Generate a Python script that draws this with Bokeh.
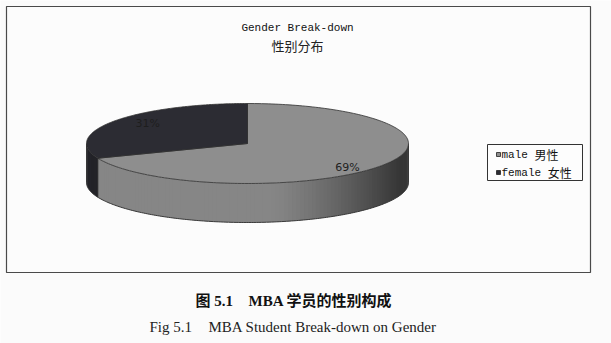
import numpy as np
from bokeh.plotting import figure
from bokeh.models import Range1d
from bokeh.core.properties import value
from bokeh.embed import file_html
from bokeh.resources import INLINE

# ---- data ----
categories = ["male", "female"]
categories_cn = ["男性", "女性"]
shares = [69, 31]
pct_labels = ["69%", "31%"]
title_en = "Gender Break-down"
title_cn = "性别分布"
caption_cn_a = "图 5.1"
caption_cn_b = "MBA 学员的性别构成"
caption_en_a = "Fig 5.1"
caption_en_b = "MBA Student Break-down on Gender"

# ---- style ----
top_colors = [(142, 142, 142), (44, 44, 51)]
W, H = 611, 343
cx, cy, a, b, depth = 247, 143, 161, 40, 39

p = figure(width=W, height=H, x_range=Range1d(0, W), y_range=Range1d(H, 0),
           output_backend="svg", toolbar_location=None, min_border=0,
           background_fill_color="#fbfbfb", border_fill_color="#fbfbfb")
p.axis.visible = False
p.grid.visible = False
p.outline_line_color = None

# chart frame
p.quad(left=[6], right=[590], top=[6], bottom=[272], fill_color="#fcfcfc",
       line_color="#4a4a4a", line_width=1.2)

total = float(sum(shares))
start = 90.0
slices = []
for s in shares:
    sweep = s / total * 360.0
    slices.append((start - sweep, start))
    start -= sweep

def hexc(rgb):
    return "#%02x%02x%02x" % tuple(int(max(0, min(255, v))) for v in rgb)

# side walls (front half), drawn as overlapping strips for a smooth shade
for i, (t0, t1) in enumerate(slices):
    for k in (-360, 0, 360):
        lo, hi = max(t0, -180 + k), min(t1, 0 + k)
        if lo >= hi:
            continue
        n = max(2, int((hi - lo) / 1.5))
        ts = np.linspace(lo, hi, n + 1)
        xs_list, ys_list, cols = [], [], []
        for j in range(n):
            ta = np.radians(ts[j])
            tb = np.radians(min(hi, ts[j + 1] + 1.2))
            tm = np.radians((ts[j] + ts[j + 1]) / 2)
            xa, xb = cx + a * np.cos(ta), cx + a * np.cos(tb)
            ya, yb = cy - b * np.sin(ta), cy - b * np.sin(tb)
            xs_list.append([xa, xb, xb, xa])
            ys_list.append([ya, yb, yb + depth, ya + depth])
            c = np.cos(tm)
            ramp = min(1.0, max(0.0, (c - 0.15) / 0.8)) ** 1.3
            base = top_colors[i]
            if i == 0:
                v = 134 - 80 * ramp
                cols.append(hexc((v, v, v)))
            else:
                f = 0.8 - 0.2 * ramp
                cols.append(hexc((base[0] * f, base[1] * f, base[2] * f)))
        p.patches(xs_list, ys_list, fill_color=cols, line_color=None)

# side outline
tt = np.radians(np.linspace(-180, 0, 200))
p.line(cx + a * np.cos(tt), cy - b * np.sin(tt) + depth, line_color="#3a3a3a", line_width=1)
r = np.radians(slices[0][0])
x0, y0 = cx + a * np.cos(r), cy - b * np.sin(r)
p.segment([x0], [y0], [x0], [y0 + depth], line_color="#2a2a2a", line_width=1)
p.segment([cx - a, cx + a], [cy, cy], [cx - a, cx + a], [cy + depth, cy + depth],
          line_color="#2a2a2a", line_width=0.8)

# top faces
for i, (t0, t1) in enumerate(slices):
    tt = np.radians(np.linspace(t0, t1, 200))
    xs = np.r_[cx, cx + a * np.cos(tt)]
    ys = np.r_[cy, cy - b * np.sin(tt)]
    p.patch(xs, ys, fill_color=hexc(top_colors[i]), line_color="#303030", line_width=0.8)

# percentage labels
lx, ly = [], []
for (t0, t1) in slices:
    m = np.radians((t0 + t1) / 2)
    lx.append(cx + 0.75 * a * np.cos(m))
    ly.append(cy + 2 - 1.0 * b * np.sin(m))
p.text(lx, ly, text=pct_labels, text_font=value("DejaVu Sans"), text_font_size="11px",
       text_color="#1e1e1e", text_align="center", text_baseline="middle")

# titles
p.text([297], [27], text=[title_en], text_font=value("Liberation Mono"), text_font_size="11px",
       text_color="#111111", text_align="center", text_baseline="middle")
p.text([297], [45], text=[title_cn], text_font=value("Noto Sans CJK SC"), text_font_size="13px",
       text_color="#222222", text_align="center", text_baseline="middle")

# legend
p.quad(left=[487], right=[582], top=[144], bottom=[180], fill_color="#fdfdfd",
       line_color="#333333", line_width=1)
leg_y = [154, 172]
p.quad(left=[496, 496], right=[500, 500], top=[y - 2 for y in leg_y], bottom=[y + 2 for y in leg_y],
       fill_color=[hexc(c) for c in top_colors], line_color="#222222", line_width=0.8)
p.text([501, 501], leg_y, text=categories, text_font=value("Liberation Mono"), text_font_size="11px",
       text_color="#111111", text_baseline="middle")
cn_x = [501 + 6.6 * (len(c) + 1) for c in categories]
p.text(cn_x, leg_y, text=categories_cn, text_font=value("Noto Sans CJK SC"), text_font_size="12px",
       text_color="#111111", text_baseline="middle")

# captions
p.text([195], [300], text=[caption_cn_a], text_font=value("'Liberation Serif', 'Noto Sans CJK SC'"),
       text_font_size="15px", text_font_style="bold", text_color="#111111", text_baseline="middle")
p.text([248], [300], text=[caption_cn_b], text_font=value("'Liberation Serif', 'Noto Sans CJK SC'"),
       text_font_size="15px", text_font_style="bold", text_color="#111111", text_baseline="middle")
p.text([149], [326], text=[caption_en_a], text_font=value("Liberation Serif"),
       text_font_size="15px", text_color="#222222", text_baseline="middle")
p.text([208], [326], text=[caption_en_b], text_font=value("Liberation Serif"),
       text_font_size="15px", text_color="#222222", text_baseline="middle")

open("out.html", "w").write(file_html(p, INLINE))
